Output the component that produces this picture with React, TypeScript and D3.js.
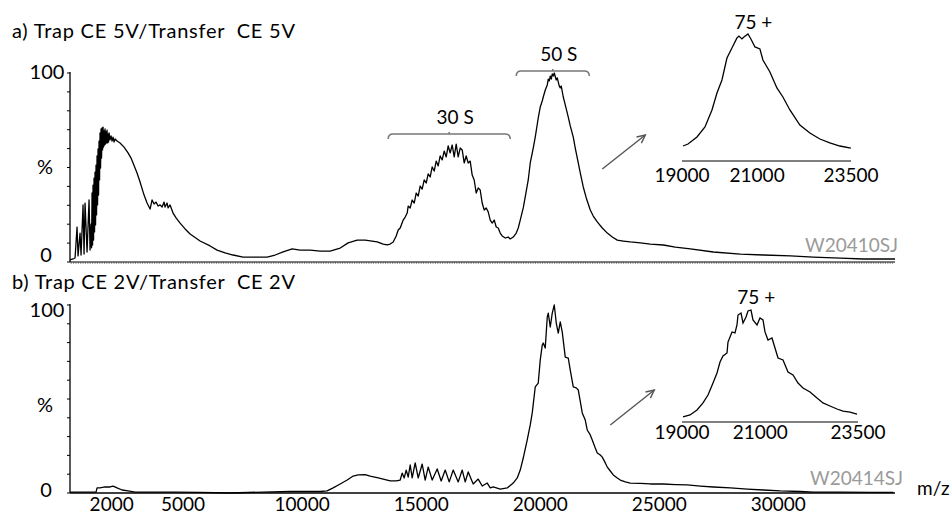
import React from 'react';
import * as d3 from 'd3';

// ---------------- data (m/z, relative intensity %) ----------------
const xTicks = [2000, 5000, 10000, 15000, 20000, 25000, 30000];
const insetTicks = [19000, 21000, 23500];
const percentTicks = [0, 10, 20, 30, 40, 50, 60, 70, 80, 90, 100];
const panelTitles = ['a) Trap CE 5V/Transfer  CE 5V', 'b) Trap CE 2V/Transfer  CE 2V'];
const runIds = ['W20410SJ', 'W20414SJ'];
const chargeLabels = ['75 +', '75 +'];
const xUnit = 'm/z';

// complexes annotated in panel a: [label, mzStart, mzEnd, level %]
const complexes: [string, number, number, number][] = [
  ['30 S', 13613, 18740, 67.7],
  ['50 S', 18992, 22060, 101],
];
// zoom arrows [mz0, pct0, mz1, pct1]
const arrowsA: [number, number, number, number] = [22606, 49.2, 24413, 67.2];
const arrowsB: [number, number, number, number] = [22942, 36.2, 24791, 54.8];

const spectrumA: [number, number][] = [
  [250, 1.1], [378, 1.6], [462, 2.1], [546, 18.5], [588, 3.2], [672, 15.3], [714, 3.7],
  [798, 30.2], [840, 4.2], [882, 31.2], [966, 5.3], [1050, 32.8], [1092, 6.3], [1134, 20.0],
  [1155, 7.5], [1176, 36.5], [1197, 9.0], [1218, 40.7], [1239, 11.6], [1260, 44.4],
  [1281, 15.9], [1302, 47.6], [1323, 19.6], [1344, 51.3], [1365, 24.9], [1386, 56.1],
  [1407, 30.2], [1428, 59.8], [1449, 35.4], [1470, 64.0], [1491, 43.4], [1512, 68.3],
  [1533, 49.7], [1554, 70.4], [1575, 55.0], [1596, 70.9], [1617, 59.3], [1638, 71.4],
  [1659, 60.8], [1680, 69.3], [1701, 61.9], [1722, 70.4], [1743, 62.4], [1764, 68.8],
  [1785, 63.0], [1806, 69.8], [1827, 63.0], [1848, 67.7], [1869, 63.5], [1890, 68.3],
  [1932, 64.6], [1974, 66.7], [2016, 64.0], [2058, 66.1], [2100, 63.5], [2142, 65.1],
  [2226, 64.0], [2352, 63.0], [2520, 60.8],
  [2688, 57.7], [2814, 55.0], [2898, 52.4], [3066, 47.1], [3192, 42.3], [3361, 35.4],
  [3487, 31.2], [3613, 28.0], [3697, 32.8], [3781, 30.7], [3865, 31.7], [3949, 29.6],
  [4033, 30.2], [4117, 29.1], [4201, 31.7], [4243, 29.1], [4327, 31.2], [4369, 28.6],
  [4453, 30.2], [4579, 25.9], [4705, 23.3], [4874, 20.6], [5084, 17.5], [5294, 14.8],
  [5714, 11.1], [6134, 8.5], [6428, 6.3], [6764, 4.8], [7099, 3.7], [7520, 2.6],
  [7941, 2.6], [8530, 2.6], [8865, 3.7], [9202, 5.3], [9580, 6.9], [9916, 6.3],
  [10336, 6.3], [10756, 5.8], [11176, 5.8], [11597, 7.4], [11933, 10.1], [12311, 11.6],
  [12647, 11.6], [12941, 11.1], [13152, 10.6], [13404, 9.5], [13572, 9.0], [13698, 9.5],
  [13824, 10.6], [13950, 13.8], [14034, 16.9], [14118, 18.0], [14244, 22.2], [14328, 23.8],
  [14412, 25.9], [14454, 29.6], [14538, 28.6], [14622, 32.8], [14706, 31.2], [14790, 36.5],
  [14874, 34.9], [14958, 40.2], [15042, 38.6], [15126, 43.4], [15210, 41.8], [15294, 46.6],
  [15378, 45.0], [15462, 50.3], [15546, 48.1], [15630, 53.4], [15714, 50.8], [15798, 56.1],
  [15882, 54.0], [15966, 58.7], [16050, 55.6], [16134, 61.4], [16218, 57.7], [16302, 61.9],
  [16386, 55.6], [16470, 62.4], [16554, 55.6], [16638, 60.3], [16722, 59.3], [16806, 52.4],
  [16890, 56.1], [16974, 52.4], [17058, 53.4], [17142, 46.0], [17226, 43.4], [17310, 36.5],
  [17394, 39.2], [17478, 38.1], [17562, 31.2], [17646, 27.5], [17731, 28.6], [17815, 26.5],
  [17899, 22.2], [17983, 20.6], [18067, 22.2], [18151, 18.5], [18235, 18.0], [18319, 15.3],
  [18403, 13.8], [18529, 12.7], [18655, 13.2], [18740, 12.2], [18866, 13.2], [18992, 15.3],
  [19076, 18.0], [19160, 22.2], [19286, 28.6], [19370, 34.4], [19496, 43.4], [19580, 52.4],
  [19706, 60.3], [19790, 66.1], [19916, 76.2], [20000, 82.0], [20084, 85.2], [20127, 87.3],
  [20211, 91.0], [20295, 93.7], [20337, 96.8], [20379, 95.8], [20421, 98.4], [20463, 96.8],
  [20505, 99.5], [20547, 98.4], [20589, 100], [20673, 96.3], [20715, 97.4], [20799, 93.1],
  [20841, 92.1], [20883, 93.1], [20967, 87.3], [21051, 83.1], [21177, 76.7], [21261, 72.0],
  [21387, 66.1], [21471, 60.3], [21597, 52.4], [21681, 47.1], [21807, 39.7], [21933, 33.9],
  [22101, 27.5], [22227, 24.3], [22395, 21.2], [22606, 18.0], [22816, 15.3], [23026, 13.2],
  [23236, 11.6], [23488, 11.1], [23782, 10.6], [24203, 10.1], [24623, 9.5], [25169, 9.0],
  [25674, 7.9], [26304, 6.9], [27271, 5.3], [28405, 4.2], [29371, 3.7], [30506, 3.2],
  [31472, 2.6], [32607, 2.1], [33573, 1.6], [34900, 1.6],
];

const spectrumB: [number, number][] = [
  [250, 0.5], [672, 0.5], [1092, 0.5], [1344, 0.5], [1386, 2.7], [1512, 2.7], [1722, 3.2],
  [1932, 3.2], [2058, 3.7], [2226, 2.7], [2436, 1.6], [2688, 1.1], [2983, 0.5], [3613, 0.5],
  [4664, 0.5], [5714, 0.3], [6975, 0], [8361, 0.5], [9496, 0.8], [10336, 0.8], [10756, 0.8],
  [11050, 1.1], [11302, 2.7], [11597, 4.8], [11891, 6.9], [12143, 9.0], [12353, 9.6],
  [12647, 9.8], [12857, 9.0], [13152, 8.2], [13404, 7.4], [13698, 6.4], [13950, 6.4],
  [14118, 6.9], [14202, 10.6], [14286, 8.0], [14370, 12.2], [14454, 8.5], [14538, 14.9],
  [14622, 8.0], [14748, 16.0], [14874, 8.0], [15042, 15.4], [15168, 6.9], [15294, 13.8],
  [15462, 6.9], [15672, 12.8], [15840, 6.4], [16009, 12.2], [16177, 5.9], [16345, 12.2],
  [16555, 5.9], [16723, 12.2], [16849, 5.9], [16975, 11.2], [17185, 4.8], [17395, 7.4],
  [17564, 3.7], [17774, 5.3], [17900, 2.7], [18026, 3.2], [18320, 2.1], [18614, 2.7],
  [18866, 5.3], [19034, 8.0], [19160, 12.2], [19286, 18.6], [19454, 28.2], [19580, 36.2],
  [19664, 42.6], [19790, 56.4], [19916, 58.5], [20000, 70.7], [20084, 78.7], [20126, 79.8],
  [20210, 77.1], [20295, 93.6], [20337, 95.7], [20421, 88.3], [20505, 95.7], [20589, 100],
  [20673, 90.4], [20757, 85.1], [20841, 91.0], [20925, 85.6], [21051, 72.3], [21177, 71.8],
  [21261, 65.4], [21387, 56.4], [21513, 55.9], [21597, 54.8], [21765, 42.6], [21891, 38.8],
  [21975, 33.5], [22101, 30.9], [22185, 28.2], [22311, 23.9], [22395, 21.3], [22521, 20.2],
  [22606, 19.1], [22732, 16.0], [22816, 13.8], [22942, 11.7], [23068, 9.6], [23236, 8.0],
  [23362, 6.9], [23572, 5.9], [23782, 5.3], [24203, 5.1], [24623, 4.8], [25169, 4.8],
  [25674, 4.5], [26178, 4.3], [26724, 3.7], [27271, 3.2], [27985, 2.7], [28699, 2.1],
  [29371, 1.6], [30086, 1.1], [30926, 0.8], [31472, 0.5], [32607, 0.5], [33868, 0.3],
  [34834, 0.3],
];

const insetA: [number, number][] = [
  [19027, 11.8], [19160, 13.4], [19399, 18.9], [19612, 26.8], [19798, 40.2], [19931, 53.5],
  [20064, 63.8], [20197, 81.1], [20330, 89.0], [20463, 96.9], [20516, 98.4], [20596, 96.1],
  [20649, 97.6], [20756, 100], [20835, 96.1], [20942, 89.8], [21075, 88.2], [21155, 79.5],
  [21341, 70.1], [21527, 57.5], [21687, 50.4], [21873, 40.2], [22139, 28.3], [22405, 22.0],
  [22671, 17.3], [22937, 14.2], [23203, 11.8], [23495, 10.2],
];

const insetB: [number, number][] = [
  [19026, 4.5], [19205, 6.3], [19384, 10.7], [19537, 17.0], [19665, 24.1], [19793, 34.8],
  [19895, 43.8], [19972, 53.6], [20048, 58.9], [20151, 61.6], [20176, 71.4], [20279, 80.4],
  [20355, 79.5], [20406, 86.6], [20432, 95.5], [20509, 97.3], [20560, 88.4], [20637, 93.8],
  [20688, 99.1], [20764, 100], [20815, 91.1], [20918, 86.6], [20994, 92.9], [21071, 91.1],
  [21122, 80.4], [21199, 73.2], [21301, 75.0], [21378, 66.1], [21455, 57.1], [21583, 55.4],
  [21710, 44.6], [21838, 42.0], [21966, 34.8], [22094, 30.4], [22273, 26.8], [22452, 21.4],
  [22605, 17.0], [22784, 14.3], [22963, 11.6], [23117, 9.8], [23296, 8.9], [23475, 7.1],
];

// ---------------- layout ----------------
const W = 951;
const H = 515;
const FONT = 'Lato, "Open Sans", sans-serif';
const FS = 19;

const x = d3.scaleLinear().domain([250, 34900]).range([70, 895]);
const yA = d3.scaleLinear().domain([0, 100]).range([262, 73]);
const yB = d3.scaleLinear().domain([0, 100]).range([493, 305]);
const xiA = d3.scaleLinear().domain([19000, 23500]).range([682, 851]);
const yiA = d3.scaleLinear().domain([0, 100]).range([161, 34]);
const xiB = d3.scaleLinear().domain([19000, 23500]).range([682, 858]);
const yiB = d3.scaleLinear().domain([0, 100]).range([422, 310]);

type Sc = d3.ScaleLinear<number, number>;
const path = (data: [number, number][], xs: Sc, ys: Sc) =>
  d3.line<[number, number]>().x((d) => xs(d[0])).y((d) => ys(d[1]))(data) || '';

function Arrow({ a, ys }: { a: [number, number, number, number]; ys: Sc }) {
  const x0 = x(a[0]), y0 = ys(a[1]), x1 = x(a[2]), y1 = ys(a[3]);
  const ang = Math.atan2(y1 - y0, x1 - x0);
  const L = 9, spread = 0.45;
  const h1 = [x1 - L * Math.cos(ang - spread), y1 - L * Math.sin(ang - spread)];
  const h2 = [x1 - L * Math.cos(ang + spread), y1 - L * Math.sin(ang + spread)];
  return (
    <g stroke="#555" strokeWidth={1.4} fill="none">
      <line x1={x0} y1={y0} x2={x1} y2={y1} />
      <polyline points={`${h1[0]},${h1[1]} ${x1},${y1} ${h2[0]},${h2[1]}`} />
    </g>
  );
}

function YAxis({ ys, hundredOffset, pctOffset, zeroOffset }: { ys: Sc; hundredOffset: number; pctOffset: number; zeroOffset: number }) {
  return (
    <g>
      <line x1={70} x2={70} y1={ys(0)} y2={ys(100) - 1} stroke="#000" strokeWidth={1.3} />
      {percentTicks.map((t) => (
        <line key={t} x1={67} x2={70} y1={ys(t)} y2={ys(t)} stroke="#000" strokeWidth={1} />
      ))}
      <text x={47} y={ys(100) + hundredOffset} textAnchor="middle" fontSize={FS + 1}>100</text>
      <text x={45} y={ys(50) + pctOffset} textAnchor="middle" fontSize={FS + 1}>%</text>
      <text x={46} y={ys(0) + zeroOffset} textAnchor="middle" fontSize={FS + 1}>0</text>
    </g>
  );
}

function Inset({ data, xs, ys, labelY, chargeY, label }: { data: [number, number][]; xs: Sc; ys: Sc; labelY: number; chargeY: number; label: string }) {
  return (
    <g>
      <path d={path(data, xs, ys)} fill="none" stroke="#000" strokeWidth={1.3} />
      <line x1={xs(19000)} x2={xs(23500)} y1={ys(0)} y2={ys(0)} stroke="#555" strokeWidth={1.5} />
      {insetTicks.map((t) => (
        <text key={t} x={xs(t)} y={labelY} textAnchor="middle" fontSize={FS}>{t}</text>
      ))}
      <text x={xs(20900)} y={chargeY} textAnchor="middle" fontSize={FS}>{label}</text>
    </g>
  );
}

export default function App() {
  const minor = d3.range(300, 34900, 100);
  return (
    <svg width={W} height={H} style={{ position: 'absolute', left: 0, top: 0, background: '#fff' }}
      fontFamily={FONT}>
      <rect width={W} height={H} fill="#fff" />
      {/* titles */}
      <text x={12} y={38} fontSize={FS + 1} textLength={283} lengthAdjust="spacing" style={{ whiteSpace: 'pre' }}>{panelTitles[0]}</text>
      <text x={12} y={289} fontSize={FS + 1} textLength={283} lengthAdjust="spacing" style={{ whiteSpace: 'pre' }}>{panelTitles[1]}</text>

      {/* panel a */}
      <YAxis ys={yA} hundredOffset={6} pctOffset={6} zeroOffset={0} />
      <line x1={70} x2={895} y1={yA(0)} y2={yA(0)} stroke="#000" strokeWidth={1.2} />
      {minor.map((m) => (
        <line key={m} x1={x(m)} x2={x(m)} y1={yA(0)} y2={yA(0) + 1.8} stroke="#444" strokeWidth={0.7} />
      ))}
      <path d={path(spectrumA, x, yA)} fill="none" stroke="#000" strokeWidth={1.3} strokeLinejoin="round" />
      {complexes.map(([lab, m0, m1, lev]) => {
        const yy = yA(lev), xa = x(m0), xb = x(m1), xc = (xa + xb) / 2;
        return (
          <g key={lab}>
            <path d={`M${xa},${yy + 5} Q${xa},${yy} ${xa + 5},${yy} L${xb - 5},${yy} Q${xb},${yy} ${xb},${yy + 5}`}
              fill="none" stroke="#777" strokeWidth={1.5} />
            <line x1={xc} x2={xc} y1={yy} y2={yy - 2} stroke="#777" strokeWidth={1.5} />
            <text x={xc + 6} y={yy - 10} textAnchor="middle" fontSize={FS}>{lab}</text>
          </g>
        );
      })}
      <Arrow a={arrowsA} ys={yA} />
      <Inset data={insetA} xs={xiA} ys={yiA} labelY={182} chargeY={29} label={chargeLabels[0]} />
      <text x={805} y={252} fontSize={FS} fill="#9a9a9a">{runIds[0]}</text>

      {/* panel b */}
      <YAxis ys={yB} hundredOffset={12} pctOffset={13} zeroOffset={4} />
      <line x1={70} x2={895} y1={yB(0)} y2={yB(0)} stroke="#000" strokeWidth={1.3} />
      <path d={path(spectrumB, x, yB)} fill="none" stroke="#000" strokeWidth={1.3} strokeLinejoin="round" />
      <Arrow a={arrowsB} ys={yB} />
      <Inset data={insetB} xs={xiB} ys={yiB} labelY={439} chargeY={304} label={chargeLabels[1]} />
      <text x={810} y={485} fontSize={FS} fill="#9a9a9a">{runIds[1]}</text>

      {/* x axis labels */}
      {xTicks.map((t) => (
        <text key={t} x={x(t)} y={511} textAnchor="middle" fontSize={FS}>{t}</text>
      ))}
      <text x={917} y={495} fontSize={FS}>{xUnit}</text>
    </svg>
  );
}
